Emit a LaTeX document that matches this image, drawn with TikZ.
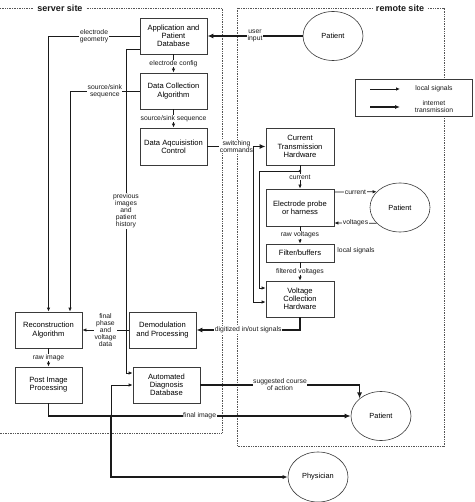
\documentclass[tikz,border=0pt]{standalone}
\usepackage{fontspec}
\setmainfont{Liberation Sans}
\usepackage{tikz}
\usetikzlibrary{arrows.meta,shapes.geometric}
\definecolor{ink}{HTML}{1A1A1A}
\definecolor{frame}{HTML}{3A3A3A}
\definecolor{site}{HTML}{555555}
\tikzset{
  box/.style={draw=frame, line width=0.8pt, fill=white, minimum width=67pt, minimum height=36pt, align=center, inner sep=1pt, font=\fontsize{7.6}{8.2}\selectfont},
  pat/.style={ellipse, draw=frame, line width=0.6pt, fill=white, minimum width=60pt, minimum height=49pt, inner sep=0pt, font=\fontsize{7.4}{8}\selectfont},
  line/.style={draw=ink, line width=0.8pt, -{Latex[length=4pt,width=3.5pt]}},
  midline/.style={draw=ink, line width=1.1pt, -{Latex[length=5pt,width=4pt]}},
  thkline/.style={draw=ink, line width=1.8pt, -{Latex[length=6pt,width=5pt]}},
  siteline/.style={draw=site, line width=0.7pt, dash pattern=on 0.8pt off 0.9pt},
  dot/.style={circle, fill=ink, inner sep=1pt},
  lbl/.style={text=ink, fill=white, inner sep=0.5pt, align=center, font=\fontsize{6.8}{7}\selectfont},
  title/.style={text=ink, fill=white, inner sep=3pt, font=\bfseries\fontsize{9}{10}\selectfont}
}
\begin{document}
\begin{tikzpicture}[x=1pt, y=-1pt]
  \useasboundingbox (0,0) rectangle (474,502);

  % site frames
  \draw[siteline] (0,8) -- (222,8) -- (222,433) -- (0,433);
  \draw[siteline] (237,8) rectangle (444,446);
  \node[title] (srv) at (60,8) {server site};
  \node[title] (rem) at (400,8) {remote site};

  % server site blocks
  \node[box] (appdb) at (173.5,36) {Application and\\Patient\\Database};
  \node[box] (dca) at (173.5,91) {Data Collection\\Algorithm};
  \node[box, minimum height=37pt] (daq) at (173.5,146.5) {Data Aqcuisistion\\Control};
  \node[box] (recon) at (48.5,330) {Reconstruction\\Algorithm};
  \node[box] (post) at (48.5,385) {Post Image\\Processing};
  \node[box] (demod) at (162.5,330) {Demodulation\\and Processing};
  \node[box] (add) at (166.5,385) {Automated\\Diagnosis\\Database};

  % remote site blocks
  \node[box, minimum width=68pt, minimum height=37pt] (cth) at (300,146.5) {Current\\Transmission\\Hardware};
  \node[box, minimum width=68pt, minimum height=37pt] (ep) at (300,207.5) {Electrode probe\\or harness};
  \node[box, minimum width=68pt, minimum height=18pt] (filt) at (300,253) {Filter/buffers};
  \node[box, minimum width=68pt] (vch) at (300,299) {Voltage\\Collection\\Hardware};

  \node[pat] (patA) at (333,36) {Patient};
  \node[pat] (patB) at (400,207.5) {Patient};
  \node[pat] (patC) at (381,416) {Patient};
  \node[pat, minimum height=50pt] (phys) at (318,477) {Physician};

  % legend
  \node[box, minimum width=117pt, minimum height=37pt] (legend) at (413.5,97.5) {};
  \coordinate (lgA1) at (370,89);
  \coordinate (lgA2) at (400,89);
  \coordinate (lgB1) at (370,107);
  \coordinate (lgB2) at (400,107);
  \draw[line] (lgA1) -- (lgA2);
  \draw[midline] (lgB1) -- (lgB2);
  \node[lbl] (lgloc) at (434,89) {local signals};
  \node[lbl] (lgnet) at (434,106.5) {internet\\transmission};
  \node[lbl] (loose) at (356,251) {local signals};

  % server site signals
  \draw[thkline] (patA.west) -- node[lbl]{user\\input} (appdb.east);
  \draw[line] (appdb) -- node[lbl]{electrode config} (dca);
  \draw[line] (dca) -- node[lbl]{source/sink sequence} (daq);
  \draw[line] (appdb.west) -| node[lbl, pos=0.25]{electrode\\geometry} (recon.north);
  \draw[line] (dca.west) -| node[lbl, pos=0.25]{source/sink\\sequence} ([xshift=21.5pt]recon.north);
  \coordinate (hist) at (126,49);
  \draw[line, -] ([yshift=-13pt]appdb.west) -- (hist);
  \draw[line] (hist) |- node[lbl, pos=0.25]{previous\\images\\and\\patient\\history} ([yshift=12pt]add.west);
  \draw[line] (demod.west) -- node[lbl]{final\\phase\\and\\voltage\\data} (recon.east);
  \draw[line] (recon) -- node[lbl]{raw image} (post);

  % remote site signals
  \draw[thkline] (daq.east) -- node[lbl]{switching\\commands} (cth.west);
  \coordinate (sw) at (253,146.5);
  \draw[line] (sw) |- ([yshift=-3pt]vch.west);
  \draw[line] (cth) -- node[lbl]{current} (ep);
  \coordinate (cj) at (300,171);
  \coordinate (cl) at (259,171);
  \node[dot] (cjd) at (cj) {};
  \draw[line, -] (cj) -- (cl);
  \draw[line] (cl) |- ([yshift=11pt]vch.west);
  \draw[line] ([yshift=15.5pt]ep.east) -- node[lbl]{current} (patB.146);
  \draw[line] (patB.214) -- node[lbl]{voltages} ([yshift=-15.5pt]ep.east);
  \draw[line] (ep) -- node[lbl]{raw voltages} (filt);
  \draw[line] (filt) -- node[lbl]{filtered voltages} (vch);
  \draw[thkline] (vch.south) |- node[lbl, pos=0.75]{digitized in/out signals} (demod.east);

  % outputs
  \draw[thkline] (post.south) |- node[lbl, pos=0.75]{final image} (patC.west);
  \coordinate (fj) at (111,416);
  \node[dot] (fjd) at (fj) {};
  \draw[line] (fj) |- (add.west);
  \draw[midline] (fj) |- (phys.west);
  \draw[thkline] (add.east) -| node[lbl, pos=0.25]{suggested course\\of action} (patC.north west);
\end{tikzpicture}
\end{document}
